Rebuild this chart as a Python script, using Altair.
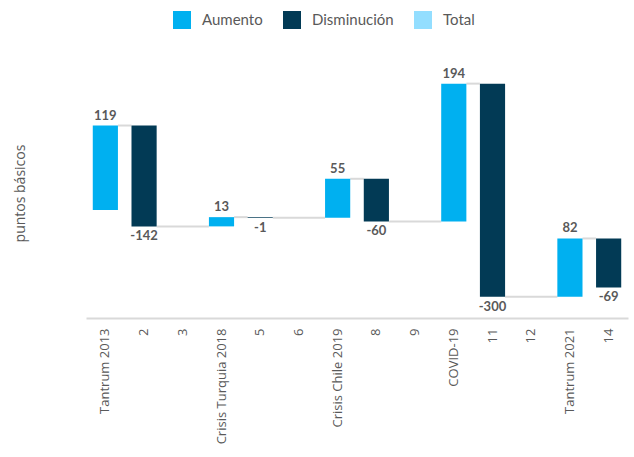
import altair as alt
import pandas as pd

categories = ["Tantrum 2013", "2", "3", "Crisis Turquia 2018", "5", "6",
              "Crisis Chile 2019", "8", "9", "COVID-19", "11", "12",
              "Tantrum 2021", "14"]
changes = [119, -142, 0, 13, -1, 0, 55, -60, 0, 194, -300, 0, 82, -69]
legend_items = ["Aumento", "Disminución", "Total"]
legend_colors = ["#00B0F0", "#023A55", "#93DEFF"]

rows = []
cum = 0
for c, v in zip(categories, changes):
    start = cum
    cum += v
    rows.append({"cat": c, "val": v, "start": start, "end": cum,
                 "tipo": "Aumento" if v > 0 else ("Disminución" if v < 0 else ""),
                 "label": str(v)})
df = pd.DataFrame(rows)
bars_df = df[df["val"] != 0]

conn = []
nz = [r for r in rows if r["val"] != 0]
for a, b in zip(nz[:-1], nz[1:]):
    conn.append({"from": a["cat"], "to": b["cat"], "level": a["end"]})
conn_df = pd.DataFrame(conn)

FONT = "Lato"
AXFONT = "Open Sans"
xscale = alt.Scale(domain=categories, paddingInner=0.35, paddingOuter=0.175)
yscale = alt.Scale(domain=[-152, 200], nice=False, zero=False)

xaxis = alt.Axis(labelAngle=-90, labelAlign="right", labelBaseline="middle",
                 labelPadding=10, ticks=False, domainColor="#D9D9D9",
                 domainWidth=2, labelColor="#595959", labelFontSize=13,
                 labelFont=AXFONT, grid=False)
yaxis = alt.Axis(labels=False, ticks=False, domain=False, grid=False,
                 title="puntos básicos", titleFont=AXFONT, titleFontSize=14,
                 titleColor="#595959", titleFontWeight="normal",
                 titleX=-66, titleY=125, titleAngle=270, titleAlign="center",
                 titleBaseline="middle")

connectors = alt.Chart(conn_df).mark_rule(color="#D9D9D9", strokeWidth=2).encode(
    x=alt.X("from:N", scale=xscale, bandPosition=1, axis=xaxis, title=None, sort=categories),
    x2=alt.X2("to:N", bandPosition=0),
    y=alt.Y("level:Q", scale=yscale, axis=yaxis),
)

bars = alt.Chart(bars_df).mark_bar().encode(
    x=alt.X("cat:N", scale=xscale, sort=categories, title=None),
    y=alt.Y("start:Q", scale=yscale),
    y2="end:Q",
    color=alt.Color("tipo:N", scale=alt.Scale(domain=legend_items, range=legend_colors),
                    legend=alt.Legend(title=None, orient="none", direction="horizontal",
                                      legendX=87, legendY=-57, symbolType="square",
                                      symbolSize=324, symbolStrokeWidth=0,
                                      labelFont=FONT, labelFontSize=15,
                                      labelColor="#595959", columnPadding=20,
                                      labelOffset=11)),
)

pos = alt.Chart(bars_df[bars_df["val"] > 0]).mark_text(
    baseline="bottom", dy=-3, font=FONT, fontSize=13, fontWeight="bold", color="#595959"
).encode(
    x=alt.X("cat:N", scale=xscale, sort=categories, title=None),
    y=alt.Y("end:Q", scale=yscale),
    text="label:N",
)
neg = alt.Chart(bars_df[bars_df["val"] < 0]).mark_text(
    baseline="top", dy=4, font=FONT, fontSize=13, fontWeight="bold", color="#595959"
).encode(
    x=alt.X("cat:N", scale=xscale, sort=categories, title=None),
    y=alt.Y("end:Q", scale=yscale),
    text="label:N",
)

chart = alt.layer(connectors, bars, pos, neg).properties(
    width=542, height=250,
    autosize=alt.AutoSizeParams(type="none"),
    padding={"left": 86, "top": 68, "right": 6, "bottom": 139},
).configure_view(stroke=None)

chart.save("out.html", embed_options={"renderer": "svg", "actions": False})
